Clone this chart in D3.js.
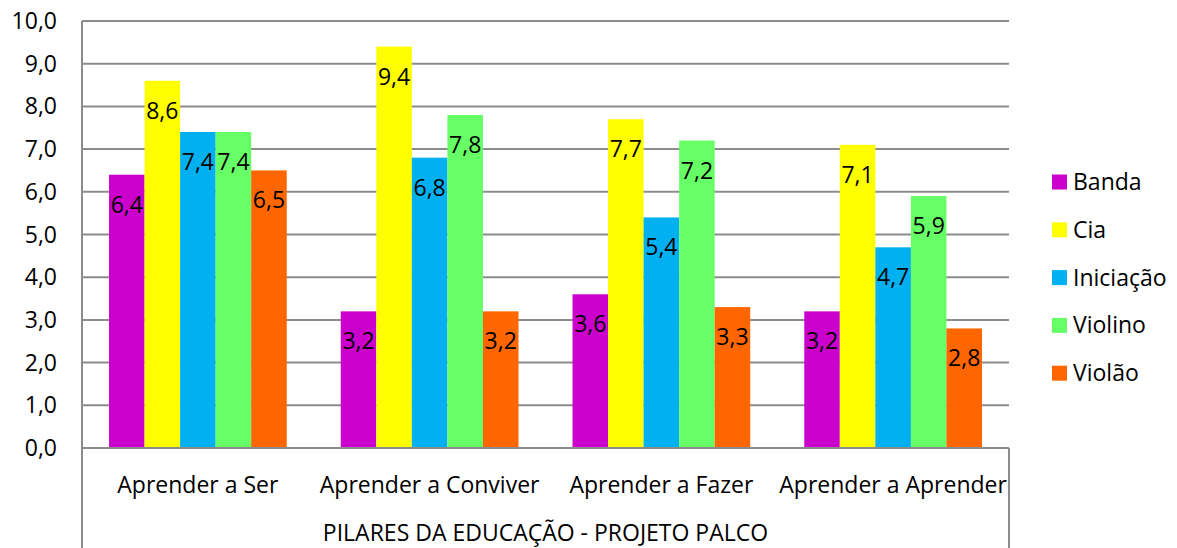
<!DOCTYPE html>
<html><head><meta charset="utf-8">
<script src="https://cdn.jsdelivr.net/npm/d3@7"></script>
<style>body{margin:0;background:#fff}svg{display:block}text{font-family:"Open Sans",sans-serif;fill:#000}</style>
</head><body><svg id="c" width="1177" height="548"></svg>
<script>
const categories = ["Aprender a Ser","Aprender a Conviver","Aprender a Fazer","Aprender a Aprender"];
const seriesNames = ["Banda","Cia","Iniciação","Violino","Violão"];
const seriesColors = ["#CC00CC","#FFFF00","#00B0F0","#66FF66","#FF6600"];
const banda = [6.4,3.2,3.6,3.2];
const cia = [8.6,9.4,7.7,7.1];
const iniciacao = [7.4,6.8,5.4,4.7];
const violino = [7.4,7.8,7.2,5.9];
const violao = [6.5,3.2,3.3,2.8];
const yTicks = [0,1,2,3,4,5,6,7,8,9,10];
const axisTitle = "PILARES DA EDUCAÇÃO - PROJETO PALCO";

const values = [banda,cia,iniciacao,violino,violao];
const svg = d3.select("#c");
const L=82,R=1009,T=21,B=448;
const FS=23;
const y = d3.scaleLinear().domain([0,10]).range([B,T]);
const x0 = d3.scaleBand().domain(categories).range([L,R]).paddingInner(0).paddingOuter(0);
const x1 = d3.scaleBand().domain(seriesNames).range([0,x0.bandwidth()]).paddingOuter(0.76);
const fmt = v => v.toFixed(1).replace(".",",");

svg.append("g").selectAll("line").data(yTicks.filter(d=>d>0)).join("line")
  .attr("x1",L).attr("x2",R).attr("y1",d=>y(d)).attr("y2",d=>y(d))
  .attr("stroke","#8c8c8c").attr("stroke-width",2);

const g = svg.append("g");
seriesNames.forEach((s,si)=>{
  g.selectAll(null).data(categories).join("rect")
    .attr("x",c=>x0(c)+x1(s)).attr("width",x1.bandwidth())
    .attr("y",(c,i)=>y(values[si][i])).attr("height",(c,i)=>B-y(values[si][i]))
    .attr("fill",seriesColors[si]);
});
seriesNames.forEach((s,si)=>{
  g.selectAll(null).data(categories).join("text")
    .attr("x",c=>x0(c)+x1(s)+x1.bandwidth()/2)
    .attr("y",(c,i)=>y(values[si][i])+38)
    .attr("text-anchor","middle").attr("font-size",FS)
    .text((c,i)=>fmt(values[si][i]));
});

const ax = svg.append("g").attr("stroke","#8c8c8c").attr("stroke-width",2);
ax.append("line").attr("x1",L).attr("x2",L).attr("y1",T).attr("y2",548);
ax.append("line").attr("x1",L).attr("x2",R).attr("y1",B).attr("y2",B);
ax.append("line").attr("x1",R).attr("x2",R).attr("y1",B).attr("y2",548);

svg.append("g").selectAll("text").data(yTicks).join("text")
  .attr("x",57).attr("y",d=>y(d)+8).attr("text-anchor","end").attr("font-size",FS)
  .text(d=>fmt(d));

svg.append("g").selectAll("text").data(categories).join("text")
  .attr("x",c=>x0(c)+x0.bandwidth()/2).attr("y",493).attr("text-anchor","middle").attr("font-size",FS)
  .text(d=>d);
svg.append("text").attr("x",(L+R)/2).attr("y",541).attr("text-anchor","middle").attr("font-size",FS).text(axisTitle);

const lg = svg.append("g").selectAll("g").data(seriesNames).join("g")
  .attr("transform",(d,i)=>`translate(1052,${182+i*47.8})`);
lg.append("rect").attr("x",0).attr("y",-7.5).attr("width",15).attr("height",15).attr("fill",(d,i)=>seriesColors[i]);
lg.append("text").attr("x",21).attr("y",8).attr("font-size",FS).text(d=>d);
</script></body></html>
